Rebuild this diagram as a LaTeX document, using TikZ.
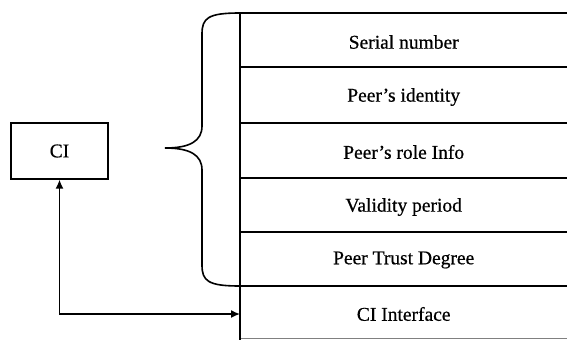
\documentclass[tikz,border=0pt]{standalone}
\usepackage{fontspec}
\setmainfont{Liberation Serif}
\newfontfamily\rowfont[FakeBold=0.6]{Liberation Serif}
\usetikzlibrary{arrows.meta}
\begin{document}
\begin{tikzpicture}[x=1pt,y=-1pt,
  rowbox/.style={minimum width=327pt,minimum height=54pt,inner sep=0pt,anchor=west,font=\rowfont\fontsize{19.5}{22}\selectfont},
  sep/.style={line width=1.8pt},
  conn/.style={line width=1.5pt,{Latex[length=9pt,width=8pt]}-{Latex[length=9pt,width=8pt]}}]
\useasboundingbox (0,0) rectangle (567,340);
\node[draw,line width=1.3pt,minimum width=97pt,minimum height=56pt,inner sep=0pt,font=\rowfont\fontsize{19.5}{22}\selectfont] (ci) at (59.5,151) {CI};
\node[rowbox] (r1) at (240,42) {Serial number};
\node[rowbox] (r2) at (240,97) {Peer’s identity};
\node[rowbox] (r3) at (240,152) {Peer’s role Info};
\node[rowbox] (r4) at (240,207) {Validity period};
\node[rowbox] (r5) at (240,260) {Peer Trust Degree};
\node[rowbox] (r6) at (240,314) {CI Interface};
% separators
\draw[sep] (240,13) -- (567,13);
\draw[sep] (240,67) -- (567,67);
\draw[sep] (240,123) -- (567,123);
\draw[sep] (240,178) -- (567,178);
\draw[sep] (240,232) -- (567,232);
\draw[line width=2.2pt] (240,286) -- (567,286);
\draw[line width=0.6pt,gray] (240,338) -- (567,338);
\draw[line width=2.2pt] (240,12) -- (240,340);
% brace
\draw[line width=1.6pt] (240,13) .. controls (208,13) and (202,18) .. (202,34) -- (202,126)
  .. controls (202,141) and (190,148) .. (165,148)
  .. controls (190,148) and (202,155) .. (202,170) -- (202,265)
  .. controls (202,281) and (208,286) .. (240,286);
% connector
\draw[conn] (ci.south) |- (r6.west);
\end{tikzpicture}
\end{document}
